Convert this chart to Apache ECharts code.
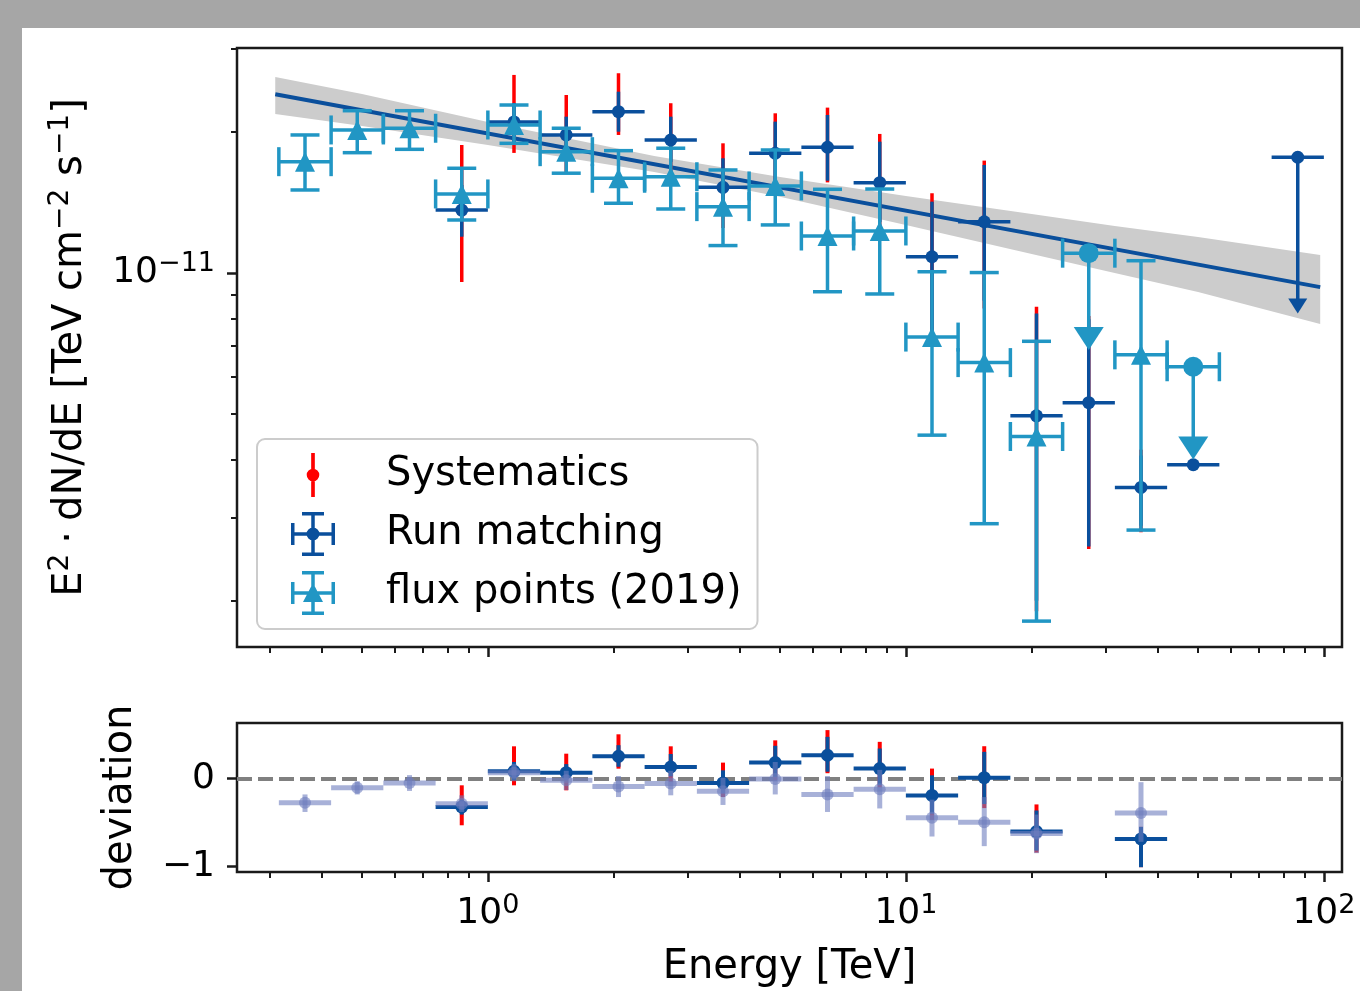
<!DOCTYPE html>
<html>
<head>
<meta charset="utf-8">
<title>Flux points vs run matching</title>
<script src="https://cdn.jsdelivr.net/npm/echarts@6.0.0/dist/echarts.min.js"></script>
<style>
  html, body { margin: 0; padding: 0; background: #a6a6a6; }
  #chart { position: absolute; left: 22px; top: 28px; width: 1338px; height: 963px; background: #fff; }
</style>
</head>
<body>
<div id="chart"></div>
<script>
// flux values are in units of 1e-11 TeV cm^-2 s^-1, energies in TeV

// flux points (2019)
const energy2019   = [0.3652, 0.4870, 0.6494, 0.8660, 1.1548, 1.5399, 2.0535, 2.7384, 3.6517, 4.8697, 6.4938, 8.6596, 11.548, 15.399, 20.535, 27.384, 36.517, 48.697]
const energyLo2019 = [0.3162, 0.4217, 0.5623, 0.7499, 1.0, 1.3335, 1.7783, 2.3714, 3.1623, 4.2170, 5.6234, 7.4989, 10.0, 13.335, 17.783, 23.714, 31.623, 42.170]
const energyHi2019 = [0.4217, 0.5623, 0.7499, 1.0, 1.3335, 1.7783, 2.3714, 3.1623, 4.2170, 5.6234, 7.4989, 10.0, 13.335, 17.783, 23.714, 31.623, 42.170, 56.234]
const flux2019     = [1.727, 2.018, 2.035, 1.474, 2.068, 1.814, 1.592, 1.604, 1.385, 1.533, 1.199, 1.229, 0.730, 0.644, 0.448, 1.102, 0.669, 0.631]
const fluxLo2019   = [1.503, 1.805, 1.835, 1.297, 1.890, 1.632, 1.408, 1.369, 1.144, 1.266, 0.912, 0.902, 0.451, 0.292, 0.181, 0.685, 0.283, 0.400]
const fluxHi2019   = [1.969, 2.218, 2.218, 1.672, 2.281, 2.035, 1.823, 1.845, 1.658, 1.829, 1.508, 1.510, 1.006, 1.002, 0.715, 1.102, 1.062, 0.631]
const ul2019       = [0, 0, 0, 0, 0, 0, 0, 0, 0, 0, 0, 0, 0, 0, 0, 1, 0, 1]

// run matching
const energyRM   = [0.8660, 1.1548, 1.5399, 2.0535, 2.7384, 3.6517, 4.8697, 6.4938, 8.6596, 11.548, 15.399, 20.535, 27.384, 36.517, 48.697, 86.596]
const energyLoRM = [0.7499, 1.0, 1.3335, 1.7783, 2.3714, 3.1623, 4.2170, 5.6234, 7.4989, 10.0, 13.335, 17.783, 23.714, 31.623, 42.170, 74.989]
const energyHiRM = [1.0, 1.3335, 1.7783, 2.3714, 3.1623, 4.2170, 5.6234, 7.4989, 10.0, 13.335, 17.783, 23.714, 31.623, 42.170, 56.234, 100.0]
const fluxRM     = [1.362, 2.099, 1.969, 2.208, 1.921, 1.523, 1.800, 1.854, 1.558, 1.083, 1.286, 0.496, 0.529, 0.349, 0.390, 1.765]
const fluxLoRM   = [1.195, 1.893, 1.803, 2.001, 1.725, 1.336, 1.556, 1.573, 1.285, 0.747, 0.873, 0.200, 0.261, 0.289, 0.390, 0.820]
const fluxHiRM   = [1.540, 2.304, 2.154, 2.435, 2.154, 1.756, 2.102, 2.172, 1.905, 1.419, 1.699, 0.820, 0.797, 0.408, 0.390, 1.765]
const sysLoRM    = [0.957, 1.803, 1.642, 1.969, 1.618, 1.247, 1.503, 1.560, 1.247, 0.700, 0.840, 0.190, 0.258, 0.280, 0.390, 0.820]
const sysHiRM    = [1.875, 2.644, 2.396, 2.666, 2.301, 1.890, 2.190, 2.252, 1.979, 1.479, 1.736, 0.847, 0.810, 0.420, 0.390, 1.765]
const ulRM       = [0, 0, 0, 0, 0, 0, 0, 0, 0, 0, 0, 0, 0, 0, 0, 1]

// best-fit power law and its error band
const modelEnergy = [0.31, 98]
const modelFlux   = [2.405, 0.933]
const bandEnergy  = [0.31, 0.5, 1, 2.5, 5, 10, 20, 31.6, 50, 98]
const bandHi      = [2.617, 2.408, 2.099, 1.776, 1.602, 1.459, 1.336, 1.259, 1.193, 1.092]
const bandLo      = [2.183, 2.058, 1.875, 1.642, 1.453, 1.266, 1.098, 1.000, 0.911, 0.778]

// deviation panel (null = not shown)
const devRM      = [-0.323, 0.084, 0.068, 0.255, 0.133, -0.049, 0.183, 0.267, 0.115, -0.191, 0.011, -0.604, null, -0.688, null, null]
const devLoRM    = [-0.41, -0.02, -0.02, 0.136, 0.026, -0.167, 0.018, 0.079, -0.076, -0.40, -0.29, -0.821, null, -1.01, null, null]
const devHiRM    = [-0.24, 0.19, 0.166, 0.382, 0.281, 0.095, 0.375, 0.477, 0.344, 0.038, 0.306, -0.363, null, -0.55, null, null]
const devSysLoRM = [-0.532, -0.076, -0.133, 0.114, -0.037, -0.209, -0.017, 0.062, -0.10, -0.47, -0.336, -0.843, null, -1.01, null, null]
const devSysHiRM = [-0.076, 0.369, 0.285, 0.506, 0.369, 0.183, 0.437, 0.554, 0.42, 0.115, 0.37, -0.294, null, -0.55, null, null]
const dev2019    = [-0.274, -0.103, -0.050, -0.285, 0.068, -0.019, -0.090, -0.055, -0.145, -0.005, -0.180, -0.120, -0.447, -0.497, -0.625, null, -0.393, null]
const devLo2019  = [-0.38, -0.18, -0.14, -0.38, -0.03, -0.13, -0.21, -0.19, -0.30, -0.18, -0.38, -0.34, -0.66, -0.77, -0.85, null, -0.72, null]
const devHi2019  = [-0.18, -0.03, 0.04, -0.19, 0.17, 0.09, 0.03, 0.09, 0.01, 0.19, 0.03, 0.10, -0.24, -0.21, -0.41, null, -0.04, null]

// axes
const xRange = [0.2511, 110.5]
const fluxRange = [0.1594, 3.0177]
const devRange = [-1.065, 0.635]
const xMajorTicks = [1, 10, 100]
const xMinorTicks = [0.3, 0.4, 0.5, 0.6, 0.7, 0.8, 0.9, 2, 3, 4, 5, 6, 7, 8, 9, 20, 30, 40, 50, 60, 70, 80, 90]
const fluxMajorTicks = [1]
const fluxMinorTicks = [0.2, 0.3, 0.4, 0.5, 0.6, 0.7, 0.8, 0.9, 2, 3]
const devTicks = [-1, 0]

const INK = '#1a1a1a'
const DARK = '#0a4f9c'
const LIGHT = '#2196c4'
const RED = '#ff0000'
const LAVENDER = 'rgba(110, 125, 190, 0.6)'
const MINUS = '\u2212'

const CROSS = 'M0,20.25 L44,20.25 L44,23.75 L0,23.75 Z M20.25,0 L23.75,0 L23.75,44 L20.25,44 Z ' +
  'M0,11 L3.5,11 L3.5,33 L0,33 Z M40.5,11 L44,11 L44,33 L40.5,33 Z ' +
  'M11,0 L33,0 L33,3.5 L11,3.5 Z M11,40.5 L33,40.5 L33,44 L11,44 Z'
const ICON_SYS = 'path://M20.25,1 L23.75,1 L23.75,43 L20.25,43 Z M28,22 A6,6 0 1 1 16,22 A6,6 0 1 1 28,22 Z'
const ICON_RM = 'path://' + CROSS + ' M28.5,22 A6.5,6.5 0 1 1 15.5,22 A6.5,6.5 0 1 1 28.5,22 Z'
const ICON_FP = 'path://' + CROSS + ' M22,12 L32,31 L12,31 Z'

const expText = n => (n < 0 ? MINUS + (-n) : String(n))
const tickRich = {
  b: { fontSize: 36, lineHeight: 44, color: '#000' },
  s: { fontSize: 27, lineHeight: 30, verticalAlign: 'top', color: '#000' }
}
const nameRich = {
  t: { fontSize: 40, lineHeight: 48, color: '#000' },
  u: { fontSize: 28, lineHeight: 32, verticalAlign: 'top', color: '#000' }
}

function rowsOf (cols, keep) {
  const out = []
  cols[0].forEach((_, i) => {
    const row = cols.map(c => c[i])
    if (!keep || keep[i] !== null) out.push(row)
  })
  return out
}

// error bar cross: [e, f, eLo, eHi, fLo, fHi, ul]
function crossRender (opt) {
  return function (params, api) {
    const e = api.value(0)
    const f = api.value(1)
    const p = api.coord([e, f])
    const x0 = api.coord([api.value(2), f])[0]
    const x1 = api.coord([api.value(3), f])[0]
    const yLo = api.coord([e, api.value(4)])[1]
    const yHi = api.coord([e, api.value(5)])[1]
    const ul = api.value(6) === 1
    const ls = { stroke: opt.color, lineWidth: opt.width, fill: null }
    const kids = [{ type: 'line', shape: { x1: x0, y1: p[1], x2: x1, y2: p[1] }, style: ls }]
    if (ul) {
      const [aw, ah] = opt.arrow
      kids.push({ type: 'line', shape: { x1: p[0], y1: p[1], x2: p[0], y2: yLo - ah + 2 }, style: ls })
      kids.push({ type: 'polygon', shape: { points: [[p[0], yLo], [p[0] - aw / 2, yLo - ah], [p[0] + aw / 2, yLo - ah]] }, style: { fill: opt.color } })
    } else {
      kids.push({ type: 'line', shape: { x1: p[0], y1: yHi, x2: p[0], y2: yLo }, style: ls })
      if (opt.cap) {
        const c = opt.cap / 2
        kids.push({ type: 'line', shape: { x1: p[0] - c, y1: yHi, x2: p[0] + c, y2: yHi }, style: ls })
        kids.push({ type: 'line', shape: { x1: p[0] - c, y1: yLo, x2: p[0] + c, y2: yLo }, style: ls })
      }
    }
    if (opt.cap) {
      const c = opt.cap / 2
      kids.push({ type: 'line', shape: { x1: x0, y1: p[1] - c, x2: x0, y2: p[1] + c }, style: ls })
      kids.push({ type: 'line', shape: { x1: x1, y1: p[1] - c, x2: x1, y2: p[1] + c }, style: ls })
    }
    if (opt.triangle && !ul) {
      const r = opt.triangle
      kids.push({ type: 'polygon', shape: { points: [[p[0], p[1] - r], [p[0] + r, p[1] + r], [p[0] - r, p[1] + r]] }, style: { fill: opt.color } })
    } else {
      kids.push({ type: 'circle', shape: { cx: p[0], cy: p[1], r: ul ? opt.ulDot : opt.dot }, style: { fill: opt.color } })
    }
    return { type: 'group', children: kids }
  }
}

// systematics: [e, f, lo, hi, ul]
function sysRender (opt) {
  return function (params, api) {
    if (api.value(4) === 1) return { type: 'group', children: [] }
    const e = api.value(0)
    const p = api.coord([e, api.value(1)])
    const lo = api.coord([e, api.value(2)])[1]
    const hi = api.coord([e, api.value(3)])[1]
    return {
      type: 'group',
      children: [
        { type: 'line', shape: { x1: p[0], y1: hi, x2: p[0], y2: lo }, style: { stroke: opt.color, lineWidth: opt.width } },
        { type: 'circle', shape: { cx: p[0], cy: p[1], r: opt.dot }, style: { fill: opt.color } }
      ]
    }
  }
}

function bandRender (params, api) {
  const pts = []
  bandEnergy.forEach((e, i) => pts.push(api.coord([e, bandHi[i]])))
  for (let i = bandEnergy.length - 1; i >= 0; i--) pts.push(api.coord([bandEnergy[i], bandLo[i]]))
  return { type: 'polygon', shape: { points: pts }, style: { fill: '#cccccc' } }
}

const tickLine = w => ({ lineStyle: { color: INK, width: w } })

function logX (grid, ticks, len, labels) {
  return {
    gridIndex: grid,
    type: 'log',
    logBase: 10,
    min: xRange[0],
    max: xRange[1],
    position: 'bottom',
    axisLine: { show: false, onZero: false },
    splitLine: { show: false },
    axisTick: { customValues: ticks, length: len, ...tickLine(len > 8 ? 2.5 : 2) },
    axisLabel: labels
      ? { customValues: ticks, margin: 20, rich: tickRich, formatter: v => '{b|10}{s|' + expText(Math.round(Math.log10(v))) + '}' }
      : { show: false }
  }
}

const chart = echarts.init(document.getElementById('chart'))

const option = {
  animation: false,
  textStyle: { fontFamily: 'DejaVu Sans' },
  grid: [
    { left: 215, top: 20, width: 1105, height: 599, show: true, borderColor: INK, borderWidth: 2.5, backgroundColor: 'transparent', outerBoundsMode: 'none' },
    { left: 215, top: 695, width: 1105, height: 149, show: true, borderColor: INK, borderWidth: 2.5, backgroundColor: 'transparent', outerBoundsMode: 'none' }
  ],
  legend: {
    left: 235,
    top: 411,
    orient: 'vertical',
    selectedMode: false,
    data: [
      { name: 'Systematics', icon: ICON_SYS },
      { name: 'Run matching', icon: ICON_RM },
      { name: 'flux points (2019)', icon: ICON_FP }
    ],
    itemWidth: 44,
    itemHeight: 44,
    itemGap: 15,
    itemStyle: { borderWidth: 0 },
    padding: [14, 16, 14, 34],
    backgroundColor: 'rgba(255,255,255,0.8)',
    borderColor: '#cccccc',
    borderWidth: 2,
    borderRadius: 8,
    textStyle: { fontSize: 40, lineHeight: 44, color: '#000', padding: [0, 0, 0, 46] }
  },
  xAxis: [
    logX(0, xMajorTicks, 10, false),
    logX(0, xMinorTicks, 6, false),
    Object.assign(logX(1, xMajorTicks, 10, true), {
      name: 'Energy [TeV]',
      nameLocation: 'middle',
      nameGap: 76,
      nameMoveOverlap: false,
      nameTextStyle: { fontSize: 40, color: '#000' }
    }),
    logX(1, xMinorTicks, 6, false)
  ],
  yAxis: [
    {
      gridIndex: 0,
      type: 'log',
      logBase: 10,
      min: fluxRange[0],
      max: fluxRange[1],
      position: 'left',
      axisLine: { show: false, onZero: false },
      splitLine: { show: false },
      axisTick: { customValues: fluxMajorTicks, length: 10, ...tickLine(2.5) },
      axisLabel: { customValues: fluxMajorTicks, margin: 22, rich: tickRich, formatter: v => '{b|10}{s|' + expText(Math.round(Math.log10(v)) - 11) + '}' },
      name: '{t|E}{u|2}{t|\u2005·\u2005dN/dE [TeV cm}{u|' + MINUS + '2}{t| s}{u|' + MINUS + '1}{t|]}',
      nameLocation: 'middle',
      nameRotate: 90,
      nameGap: 142,
      nameMoveOverlap: false,
      nameTextStyle: { rich: nameRich }
    },
    {
      gridIndex: 0,
      type: 'log',
      logBase: 10,
      min: fluxRange[0],
      max: fluxRange[1],
      position: 'left',
      axisLine: { show: false, onZero: false },
      splitLine: { show: false },
      axisTick: { customValues: fluxMinorTicks, length: 6, ...tickLine(2) },
      axisLabel: { show: false }
    },
    {
      gridIndex: 1,
      type: 'value',
      min: devRange[0],
      max: devRange[1],
      position: 'left',
      axisLine: { show: false, onZero: false },
      splitLine: { show: false },
      axisTick: { customValues: devTicks, length: 10, ...tickLine(2.5) },
      axisLabel: { customValues: devTicks, margin: 22, rich: tickRich, formatter: v => '{b|' + expText(Math.round(v)) + '}' },
      name: 'deviation',
      nameLocation: 'middle',
      nameRotate: 90,
      nameGap: 96,
      nameMoveOverlap: false,
      nameTextStyle: { fontSize: 40, color: '#000' }
    }
  ],
  series: [
    {
      name: 'band',
      type: 'custom',
      xAxisIndex: 0,
      yAxisIndex: 0,
      z: 1,
      silent: true,
      data: [[bandEnergy[0], bandLo[0]]],
      renderItem: bandRender
    },
    {
      name: 'model',
      type: 'line',
      xAxisIndex: 0,
      yAxisIndex: 0,
      z: 2,
      silent: true,
      showSymbol: false,
      lineStyle: { color: DARK, width: 4 },
      data: modelEnergy.map((e, i) => [e, modelFlux[i]])
    },
    {
      name: 'Systematics',
      type: 'custom',
      xAxisIndex: 0,
      yAxisIndex: 0,
      z: 3,
      itemStyle: { color: RED },
      data: rowsOf([energyRM, fluxRM, sysLoRM, sysHiRM, ulRM]),
      renderItem: sysRender({ color: RED, width: 3.5, dot: 5 })
    },
    {
      name: 'Run matching',
      type: 'custom',
      xAxisIndex: 0,
      yAxisIndex: 0,
      z: 4,
      itemStyle: { color: DARK },
      data: rowsOf([energyRM, fluxRM, energyLoRM, energyHiRM, fluxLoRM, fluxHiRM, ulRM]),
      renderItem: crossRender({ color: DARK, width: 3.5, dot: 6.5, ulDot: 6.5, arrow: [19, 15] })
    },
    {
      name: 'flux points (2019)',
      type: 'custom',
      xAxisIndex: 0,
      yAxisIndex: 0,
      z: 5,
      itemStyle: { color: LIGHT },
      data: rowsOf([energy2019, flux2019, energyLo2019, energyHi2019, fluxLo2019, fluxHi2019, ul2019]),
      renderItem: crossRender({ color: LIGHT, width: 3.5, cap: 29, triangle: 10, ulDot: 10, arrow: [30, 23] })
    },
    {
      name: 'dev systematics',
      type: 'custom',
      xAxisIndex: 2,
      yAxisIndex: 2,
      z: 10,
      data: rowsOf([energyRM, devRM, devSysLoRM, devSysHiRM, ulRM], devRM),
      renderItem: sysRender({ color: RED, width: 4, dot: 5 }),
      markLine: {
        silent: true,
        symbol: 'none',
        z: 4,
        label: { show: false },
        lineStyle: { color: '#808080', width: 4, type: [15, 6] },
        data: [{ yAxis: 0 }]
      }
    },
    {
      name: 'dev run matching',
      type: 'custom',
      xAxisIndex: 2,
      yAxisIndex: 2,
      z: 11,
      data: rowsOf([energyRM, devRM, energyLoRM, energyHiRM, devLoRM, devHiRM, ulRM], devRM),
      renderItem: crossRender({ color: DARK, width: 4, dot: 6.5 })
    },
    {
      name: 'dev flux points',
      type: 'custom',
      xAxisIndex: 2,
      yAxisIndex: 2,
      z: 12,
      data: rowsOf([energy2019, dev2019, energyLo2019, energyHi2019, devLo2019, devHi2019, ul2019], dev2019),
      renderItem: crossRender({ color: LAVENDER, width: 5, dot: 6 })
    }
  ]
}

chart.setOption(option)
</script>
</body>
</html>
